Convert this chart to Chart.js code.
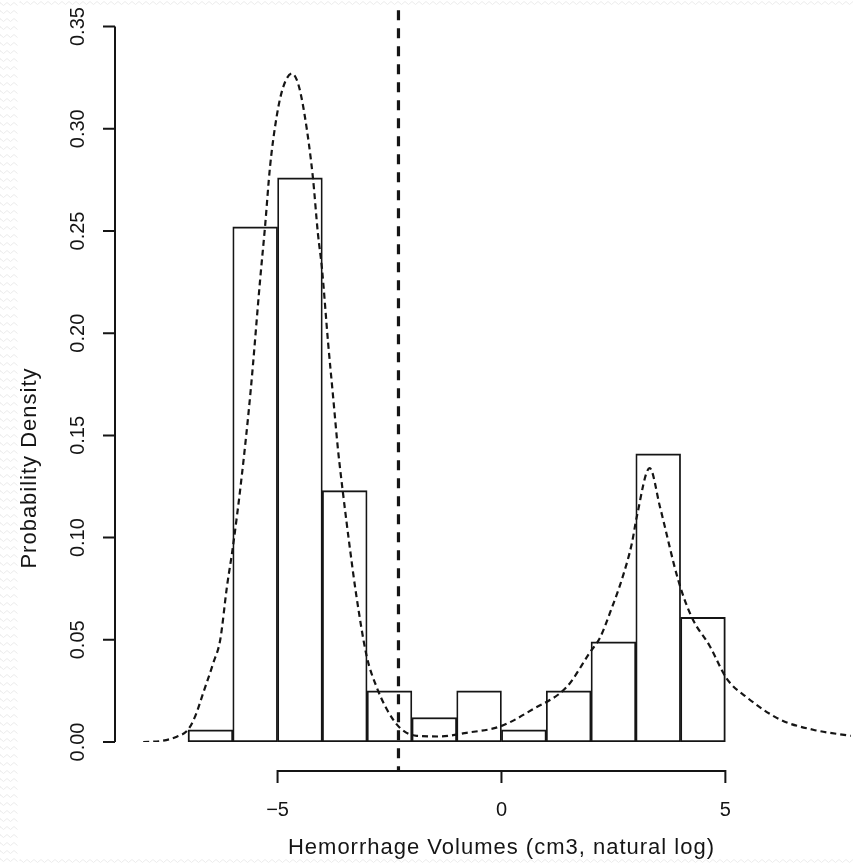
<!DOCTYPE html>
<html>
<head>
<meta charset="utf-8">
<title>Hemorrhage Volumes</title>
<script src="https://cdn.jsdelivr.net/npm/chart.js@4.4.1/dist/chart.umd.min.js"></script>
<style>
  html, body { margin: 0; padding: 0; background: #fff; }
  canvas { display: block; }
</style>
</head>
<body>
<canvas id="histChart" width="853" height="863"></canvas>
<script>
// histogram bins on natural-log volume, width 1
const binCenters = [-6.5, -5.5, -4.5, -3.5, -2.5, -1.5, -0.5, 0.5, 1.5, 2.5, 3.5, 4.5];
const binDensity = [0.006, 0.252, 0.276, 0.123, 0.025, 0.012, 0.025, 0.006, 0.025, 0.049, 0.141, 0.061];

// fitted two-component density
const curveX = [-8.0, -7.6, -7.25, -7.0, -6.84, -6.66, -6.43, -6.28, -6.13, -6.0, -5.8, -5.6, -5.39, -5.28,
  -5.17, -5.02, -4.88, -4.68, -4.54, -4.39, -4.21, -4.10, -4.01, -3.87, -3.76, -3.65, -3.54, -3.38, -3.25,
  -3.01, -2.79, -2.56, -2.27, -1.89, -1.37, -0.78, -0.03, 0.70, 1.46, 1.98, 2.2, 2.42, 2.71, 2.91, 3.02,
  3.31, 3.54, 3.95, 4.25, 4.65, 5.03, 5.47, 6.22, 6.96, 7.8];
const curveY = [0.000, 0.0005, 0.0026, 0.006, 0.0125, 0.024, 0.039, 0.050, 0.076, 0.095, 0.130, 0.172, 0.226, 0.252,
  0.281, 0.306, 0.320, 0.327, 0.322, 0.306, 0.276, 0.249, 0.232, 0.195, 0.169, 0.143, 0.122, 0.094, 0.073,
  0.042, 0.027, 0.016, 0.007, 0.003, 0.0027, 0.0045, 0.0076, 0.016, 0.027, 0.044, 0.051, 0.063, 0.081, 0.097, 0.110,
  0.134, 0.115, 0.079, 0.061, 0.047, 0.031, 0.022, 0.011, 0.006, 0.003];

// classification threshold
const cutoff = -2.3;

const yTicks = [0, 0.05, 0.10, 0.15, 0.20, 0.25, 0.30, 0.35];
const yTickLabels = ['0.00', '0.05', '0.10', '0.15', '0.20', '0.25', '0.30', '0.35'];
const xTicks = [-5, 0, 5];
const xTickLabels = ['\u22125', '0', '5'];
const xTitle = 'Hemorrhage Volumes (cm3, natural log)';
const yTitle = 'Probability Density';

const ink = '#151515';
const tickFont = '20px "Liberation Sans", Arial, sans-serif';
const titleFont = '22px "Liberation Sans", Arial, sans-serif';

// faint zigzag border strips and base-R style axes drawn off the scales
const rAxes = {
  id: 'rAxes',
  beforeDraw(chart) {
    const ctx = chart.ctx;
    const w = chart.width, h = chart.height;
    ctx.save();
    ctx.fillStyle = '#fff';
    ctx.fillRect(0, 0, w, h);
    ctx.strokeStyle = '#ececec';
    ctx.lineWidth = 1;
    const zig = (x0, x1, yy) => {
      ctx.beginPath();
      ctx.moveTo(x0, yy);
      for (let xx = x0, up = true; xx <= x1; xx += 3.5, up = !up) {
        ctx.lineTo(xx, yy + (up ? -1.5 : 1.5));
      }
      ctx.stroke();
    };
    for (let yy = 4; yy < h; yy += 8) zig(0, 20, yy);
    zig(20, w, 3);
    zig(20, w, h - 2);
    ctx.restore();
  },
  afterDraw(chart) {
    const { ctx, chartArea, scales: { x, y } } = chart;
    ctx.save();
    ctx.strokeStyle = ink;
    ctx.fillStyle = ink;
    ctx.lineWidth = 2;
    ctx.lineCap = 'butt';

    // y axis
    const yl = chartArea.left;
    ctx.beginPath();
    ctx.moveTo(yl, y.getPixelForValue(0));
    ctx.lineTo(yl, y.getPixelForValue(yTicks[yTicks.length - 1]));
    yTicks.forEach(v => {
      const py = y.getPixelForValue(v);
      ctx.moveTo(yl - 12, py);
      ctx.lineTo(yl, py);
    });
    ctx.stroke();

    ctx.font = tickFont;
    ctx.textAlign = 'center';
    ctx.textBaseline = 'middle';
    yTicks.forEach((v, i) => {
      ctx.save();
      ctx.translate(yl - 37, y.getPixelForValue(v));
      ctx.rotate(-Math.PI / 2);
      ctx.fillText(yTickLabels[i], 0, 0);
      ctx.restore();
    });

    // x axis, detached below the bars
    const axisY = y.getPixelForValue(0) + 29;
    ctx.beginPath();
    ctx.moveTo(x.getPixelForValue(xTicks[0]), axisY);
    ctx.lineTo(x.getPixelForValue(xTicks[xTicks.length - 1]), axisY);
    xTicks.forEach(v => {
      const px = x.getPixelForValue(v);
      ctx.moveTo(px, axisY - 1);
      ctx.lineTo(px, axisY + 12);
    });
    ctx.stroke();
    xTicks.forEach((v, i) => {
      ctx.fillText(xTickLabels[i], x.getPixelForValue(v), axisY + 39);
    });

    // axis titles
    ctx.font = titleFont;
    ctx.letterSpacing = '1px';
    ctx.fillText(xTitle, x.getPixelForValue(0), axisY + 77);
    ctx.save();
    ctx.translate(30, 468);
    ctx.rotate(-Math.PI / 2);
    ctx.fillText(yTitle, 0, 0);
    ctx.restore();
    ctx.letterSpacing = '0px';

    // threshold line
    const cx = x.getPixelForValue(cutoff);
    ctx.lineWidth = 3.2;
    ctx.setLineDash([10, 8]);
    ctx.beginPath();
    ctx.moveTo(cx, y.getPixelForValue(0.358));
    ctx.lineTo(cx, axisY);
    ctx.stroke();
    ctx.restore();
  }
};

const last = binCenters.length - 1;

new Chart(document.getElementById('histChart'), {
  type: 'bar',
  data: {
    datasets: [
      {
        type: 'line',
        data: curveX.map((v, i) => ({ x: v, y: curveY[i] })),
        borderColor: ink,
        borderWidth: 2.2,
        borderDash: [6, 4],
        pointRadius: 0,
        fill: false,
        cubicInterpolationMode: 'monotone',
        order: 0
      },
      {
        type: 'bar',
        data: binCenters.map((v, i) => ({ x: v, y: binDensity[i] })),
        backgroundColor: '#fff',
        borderColor: ink,
        borderSkipped: false,
        borderWidth: ctx => ({
          top: 2,
          bottom: 2,
          left: ctx.dataIndex === 0 ? 2 : 1.8,
          right: ctx.dataIndex === last ? 2 : 1.8
        }),
        barPercentage: 1,
        categoryPercentage: 1,
        order: 1
      }
    ]
  },
  options: {
    responsive: false,
    animation: false,
    layout: { padding: { left: 115, right: 0, top: 0, bottom: 121 } },
    plugins: {
      legend: { display: false },
      tooltip: { enabled: false }
    },
    scales: {
      x: { type: 'linear', min: -8.63, max: 7.85, offset: false, display: false },
      y: { type: 'linear', min: 0, max: 0.363, display: false }
    }
  },
  plugins: [rAxes]
});
</script>
</body>
</html>
